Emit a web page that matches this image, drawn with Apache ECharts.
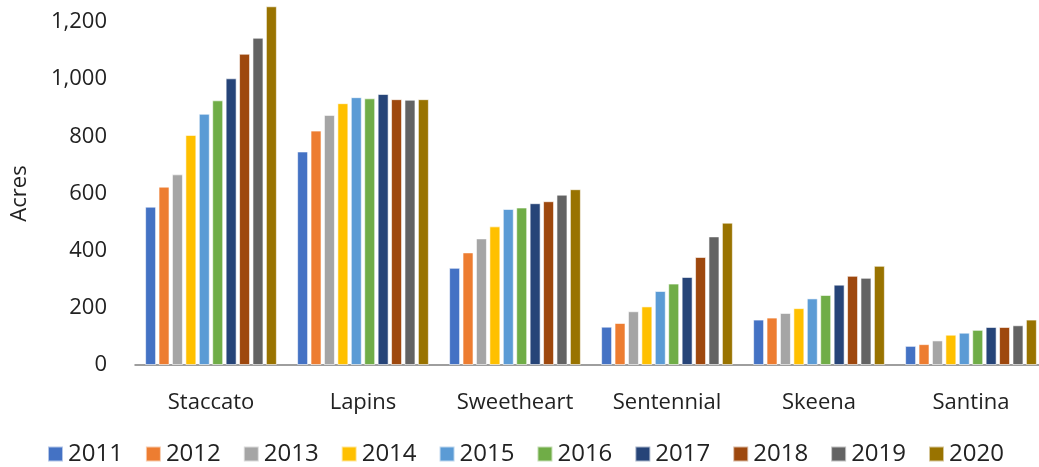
<!DOCTYPE html>
<html>
<head>
<meta charset="utf-8">
<script src="https://cdn.jsdelivr.net/npm/echarts@6/dist/echarts.min.js"></script>
<style>
  html, body { margin: 0; padding: 0; background: #fff; }
  #chart { width: 1039px; height: 467px; }
</style>
</head>
<body>
<div id="chart"></div>
<script>
// varieties on the x axis
const varieties = ['Staccato', 'Lapins', 'Sweetheart', 'Sentennial', 'Skeena', 'Santina']
const years = ['2011', '2012', '2013', '2014', '2015', '2016', '2017', '2018', '2019', '2020']
const yTicks = [0, 200, 400, 600, 800, 1000, 1200]

// acres per year, one value per variety
const acres2011 = [554, 747, 340, 134, 159, 67]
const acres2012 = [624, 820, 394, 147, 166, 73]
const acres2013 = [667, 875, 443, 188, 182, 86]
const acres2014 = [805, 916, 485, 205, 199, 106]
const acres2015 = [879, 937, 546, 259, 233, 113]
const acres2016 = [926, 933, 551, 285, 245, 123]
const acres2017 = [1003, 948, 566, 308, 281, 133]
const acres2018 = [1089, 930, 573, 378, 312, 133]
const acres2019 = [1145, 928, 596, 450, 305, 139]
const acres2020 = [1255, 930, 615, 498, 347, 159]

const allAcres = [acres2011, acres2012, acres2013, acres2014, acres2015,
  acres2016, acres2017, acres2018, acres2019, acres2020]

const colors = ['#4472C4', '#ED7D31', '#A5A5A5', '#FFC000', '#5B9BD5',
  '#70AD47', '#264478', '#9E480E', '#636363', '#997300']

const font = 'Open Sans'

const chart = echarts.init(document.getElementById('chart'))

const option = {
  animation: false,
  color: colors,
  textStyle: { fontFamily: font },
  // plot runs a little past the right edge, like the source
  grid: { left: 135, width: 912, top: 22, bottom: 102, outerBoundsMode: 'none' },
  legend: {
    bottom: -4,
    left: 42,
    icon: 'rect',
    itemWidth: 15,
    itemHeight: 15,
    itemGap: 22,
    textStyle: { fontSize: 24, color: '#222', fontFamily: font },
    data: years
  },
  xAxis: {
    type: 'category',
    data: varieties,
    axisTick: { show: false },
    axisLine: { lineStyle: { color: '#7f7f7f', width: 1.5 } },
    axisLabel: { interval: 0, fontSize: 22, color: '#222', margin: 27, fontFamily: font }
  },
  yAxis: {
    type: 'value',
    min: yTicks[0],
    max: yTicks[yTicks.length - 1],
    interval: 200,
    name: 'Acres',
    nameLocation: 'middle',
    nameGap: 104,
    nameRotate: 90,
    nameTextStyle: { fontSize: 22, color: '#222', fontFamily: font },
    splitLine: { show: false },
    axisLine: { show: false },
    axisTick: { show: false },
    axisLabel: {
      fontSize: 22,
      color: '#222',
      margin: 28,
      fontFamily: font,
      formatter: (v) => v.toLocaleString('en-US')
    }
  },
  series: years.map((y, i) => ({
    name: y,
    type: 'bar',
    clip: false,
    barWidth: 11,
    barGap: '22%',
    itemStyle: { color: colors[i], borderColor: 'rgba(255,255,255,0.6)', borderWidth: 1 },
    data: allAcres[i]
  }))
}

chart.setOption(option)
</script>
</body>
</html>
